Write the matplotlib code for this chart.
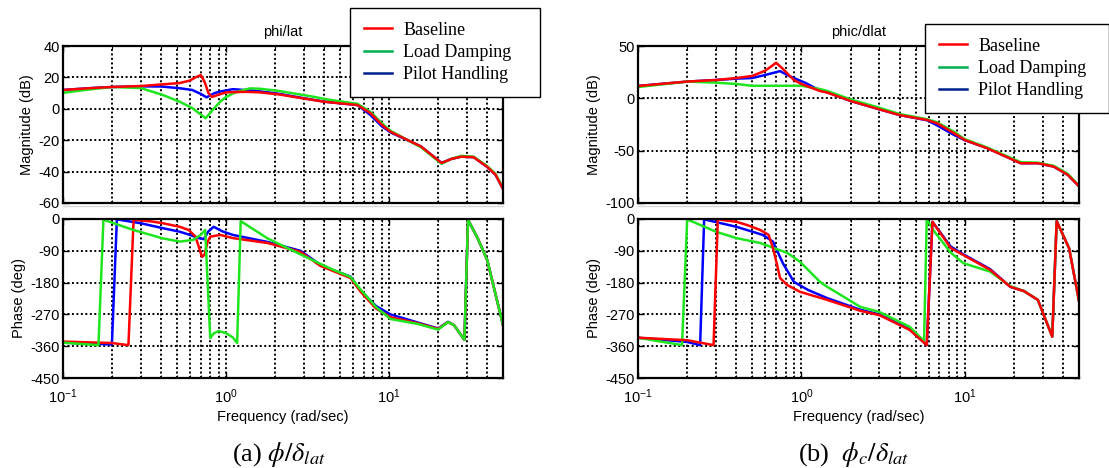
import matplotlib
matplotlib.use("Agg")
import matplotlib.pyplot as plt
from matplotlib.lines import Line2D
from matplotlib.ticker import LogLocator, NullFormatter

plt.rcParams['font.family'] = ['Liberation Sans', 'DejaVu Sans']
plt.rcParams['axes.unicode_minus'] = False

# ---------------- data ----------------
series_names = ["Baseline", "Load Damping", "Pilot Handling"]
panel_titles = ["phi/lat", "phic/dlat"]
captions = [r"(a) $\phi/\delta_{lat}$", r"(b)  $\phi_c/\delta_{lat}$"]
mag_ticks_a = [-60, -40, -20, 0, 20, 40]
mag_ticks_b = [-100, -50, 0, 50]
phase_ticks = [-450, -360, -270, -180, -90, 0]
freq_range = [0.1, 50]

# panel (a) magnitude
a_mag_base_f = [0.1, 0.15, 0.2, 0.3, 0.4, 0.52, 0.6, 0.65, 0.7, 0.74, 0.78, 0.82, 0.9, 1.0, 1.3, 1.6, 2.1, 2.9, 4.0, 5.0, 6.4, 7.7, 9.0, 10.2, 15.7, 21, 24, 27.6, 33, 40, 45, 50]
a_mag_base_db = [12, 13.2, 13.9, 14.5, 15.5, 16.4, 18, 20, 21.5, 17, 10, 7.5, 9, 10.5, 10.8, 10.5, 9.2, 6.8, 4.5, 3.5, 2.4, -2.8, -10, -14.6, -24, -34.5, -32, -30.5, -30.8, -37, -42, -51]
a_mag_pilot_f = [0.1, 0.15, 0.2, 0.3, 0.4, 0.52, 0.62, 0.7, 0.76, 0.85, 0.92, 1.1, 1.5, 2.1, 2.9, 4.0, 5.0, 6.4, 7.7, 9.0, 10.2, 15.7, 21, 24, 27.6, 33, 40, 45, 50]
a_mag_pilot_db = [12, 13.2, 13.9, 14.3, 14.2, 13.1, 12, 9.5, 7.3, 10, 11, 12.5, 11.5, 9.6, 7, 4.6, 3.5, 2.4, -4, -11, -15, -24, -34.5, -32, -30.5, -30.8, -37, -42, -51]
a_mag_load_f = [0.1, 0.15, 0.2, 0.3, 0.41, 0.52, 0.62, 0.75, 0.84, 0.92, 1.0, 1.11, 1.23, 1.4, 1.6, 2.07, 3.3, 4.4, 6.4, 7.7, 9.0, 10.2, 15.7, 21, 24, 27.6, 33, 40, 45, 50]
a_mag_load_db = [10.2, 12.5, 13.9, 13.2, 8.8, 4.5, 0.5, -6, 0, 4.5, 7.5, 9.9, 11.5, 13, 12.8, 11.5, 8, 5.6, 3.2, -2, -9, -14, -24.5, -35, -32, -30, -30.5, -36.5, -41.5, -50.5]

# panel (a) phase
a_ph_base_f = [0.1, 0.2, 0.252, 0.271, 0.35, 0.41, 0.52, 0.59, 0.65, 0.68, 0.70, 0.715, 0.74, 0.77, 0.8, 0.92, 1.1, 1.8, 2.86, 3.8, 5.0, 5.8, 6.7, 8.3, 10.2, 15, 20, 23, 25, 29, 30.5, 35, 40, 50]
a_ph_base_deg = [-347, -351, -357, -2, -7, -12, -22, -31, -50, -78, -97, -107, -100, -65, -50, -45, -54, -68, -93, -133, -155, -167, -206, -253, -278, -295, -311, -292, -300, -342, -2, -55, -116, -300]
a_ph_pilot_f = [0.1, 0.1995, 0.214, 0.3, 0.41, 0.52, 0.6, 0.68, 0.73, 0.78, 0.84, 0.95, 1.1, 1.8, 2.86, 3.8, 5.0, 5.8, 6.7, 8.3, 10.2, 15, 20, 23, 25, 29, 30.5, 35, 40, 50]
a_ph_pilot_deg = [-350, -355, -1, -12, -26, -36, -45, -54, -57, -35, -22, -35, -45, -65, -90, -130, -152, -163, -203, -246, -270, -293, -310, -291, -300, -342, -2, -55, -116, -300]
a_ph_load_f = [0.1, 0.165, 0.177, 0.27, 0.41, 0.52, 0.63, 0.70, 0.745, 0.8, 0.84, 0.9, 1.0, 1.1, 1.17, 1.23, 1.8, 2.86, 4.3, 5.8, 6.7, 8.3, 10.2, 15, 20, 23, 25, 29, 30.5, 35, 40, 50]
a_ph_load_deg = [-350, -357, -2, -31, -55, -64, -59, -45, -31, -337, -324, -317, -323, -335, -351, -6, -55, -100, -139, -164, -200, -249, -283, -297, -313, -292, -300, -342, -2, -55, -116, -300]

# panel (b) magnitude
b_mag_base_f = [0.1, 0.2, 0.3, 0.4, 0.5, 0.6, 0.66, 0.7, 0.76, 0.9, 1.0, 1.3, 1.44, 2.0, 3.0, 4.0, 5.9, 6.8, 8.6, 10, 13.7, 22, 28, 35, 42.6, 50]
b_mag_base_db = [11.8, 16, 17.5, 19.4, 21.4, 26.4, 31, 34, 29, 17.5, 13.7, 7, 5.5, -2.5, -10.5, -16, -20.7, -24, -33.4, -39.8, -47.7, -62, -62, -65.2, -73, -84]
b_mag_pilot_f = [0.1, 0.2, 0.3, 0.4, 0.5, 0.6, 0.7, 0.74, 0.85, 1.05, 1.3, 1.44, 2.0, 3.0, 4.0, 5.9, 6.8, 8.6, 10, 13.7, 22, 28, 35, 42.6, 50]
b_mag_pilot_db = [11.8, 16, 17.5, 18.8, 19.4, 22.3, 25, 26, 21, 15, 7.5, 5.8, -2.5, -10.5, -16, -21, -26, -35, -40, -47.5, -62, -62, -65.2, -73, -84]
b_mag_load_f = [0.1, 0.2, 0.3, 0.4, 0.5, 0.7, 1.0, 1.3, 1.44, 2.0, 3.0, 4.0, 5.9, 6.8, 8.6, 10, 13.7, 22, 28, 35, 42.6, 50]
b_mag_load_db = [10.8, 16, 15, 13.7, 12, 12, 12, 8.9, 7, -1, -9, -15, -20, -23, -32, -39, -47, -61, -61.5, -64.5, -72, -83.5]

# panel (b) phase
b_ph_base_f = [0.1, 0.2, 0.29, 0.308, 0.4, 0.465, 0.56, 0.63, 0.67, 0.71, 0.74, 0.82, 0.98, 1.44, 2.3, 3.0, 4.6, 5.85, 6.34, 8.2, 9.8, 14.3, 19, 23, 28, 34.3, 36.5, 43.5, 50]
b_ph_base_deg = [-336, -343, -357, -1, -8, -17, -31, -45, -82, -130, -167, -187, -206, -229, -260, -272, -314, -357, -8, -82, -102, -144, -192, -204, -229, -333, -6, -83, -232]
b_ph_pilot_f = [0.1, 0.2, 0.24, 0.254, 0.4, 0.58, 0.67, 0.77, 0.9, 1.1, 1.44, 2.3, 3.0, 4.6, 5.85, 6.34, 8.2, 9.8, 14.3, 19, 23, 28, 34.3, 36.5, 43.5, 50]
b_ph_pilot_deg = [-336, -348, -357, -1, -22, -45, -64, -125, -178, -201, -224, -257, -270, -312, -357, -8, -78, -100, -142, -192, -204, -229, -333, -6, -83, -232]
b_ph_load_f = [0.1, 0.186, 0.2, 0.3, 0.4, 0.56, 0.82, 0.98, 1.3, 1.44, 2.3, 3.0, 4.6, 5.4, 5.63, 5.85, 6.5, 8.2, 9.8, 14.3, 19, 23, 28, 34.3, 36.5, 43.5, 50]
b_ph_load_deg = [-336, -357, -1, -36, -54, -68, -96, -121, -178, -192, -249, -263, -305, -337, -350, -1, -35, -95, -125, -149, -190, -204, -229, -333, -6, -83, -232]

# ---------------- styling ----------------
col_base = '#ff0000'
col_load = '#1ee61e'
col_pilot = '#0000ff'
leg_cols = ['#ff0000', '#00b050', '#00208c']
W, H = 1109, 468

fig = plt.figure(figsize=(W / 100, H / 100), dpi=100)


def px_axes(x0, x1, ytop, ybot):
    return fig.add_axes([x0 / W, 1 - ybot / H, (x1 - x0) / W, (ybot - ytop) / H])


GRID = dict(color='k', linestyle=(0, (1.0, 1.3)), linewidth=1.4)


def style(ax, yticks, show_x):
    ax.set_xscale('log')
    ax.set_xlim(freq_range)
    ax.set_ylim(yticks[0], yticks[-1])
    ax.set_yticks(yticks)
    ax.xaxis.set_major_locator(LogLocator(base=10, numticks=10))
    ax.xaxis.set_minor_locator(LogLocator(base=10, subs=range(2, 10), numticks=20))
    ax.xaxis.set_minor_formatter(NullFormatter())
    if not show_x:
        ax.tick_params(axis='x', which='both', labelbottom=False)
    ax.grid(True, which='major', axis='both', **GRID)
    ax.grid(True, which='minor', axis='x', **GRID)
    ax.tick_params(which='both', direction='in', top=True, right=True, labelsize=10.5)
    ax.tick_params(axis='y', pad=2.5)
    ax.tick_params(axis='x', pad=7)
    ax.tick_params(which='major', length=4, width=1)
    ax.tick_params(which='minor', length=2, width=0.8)
    for s in ax.spines.values():
        s.set_linewidth(1.6)
    ax.set_axisbelow(True)


panels = [
    dict(x0=63, x1=503, mag_ticks=mag_ticks_a,
         mag=[(a_mag_pilot_f, a_mag_pilot_db, col_pilot), (a_mag_load_f, a_mag_load_db, col_load), (a_mag_base_f, a_mag_base_db, col_base)],
         ph=[(a_ph_pilot_f, a_ph_pilot_deg, col_pilot), (a_ph_base_f, a_ph_base_deg, col_base), (a_ph_load_f, a_ph_load_deg, col_load)],
         legbox=(350, 540, 8, 97)),
    dict(x0=638, x1=1079, mag_ticks=mag_ticks_b,
         mag=[(b_mag_pilot_f, b_mag_pilot_db, col_pilot), (b_mag_load_f, b_mag_load_db, col_load), (b_mag_base_f, b_mag_base_db, col_base)],
         ph=[(b_ph_pilot_f, b_ph_pilot_deg, col_pilot), (b_ph_load_f, b_ph_load_deg, col_load), (b_ph_base_f, b_ph_base_deg, col_base)],
         legbox=(925, 1109, 24, 111)),
]

for i, p in enumerate(panels):
    axm = px_axes(p['x0'], p['x1'], 46, 203)
    axp = px_axes(p['x0'], p['x1'], 219, 378)
    for f, v, c in p['mag']:
        axm.plot(f, v, color=c, lw=1.8)
    for f, v, c in p['ph']:
        axp.plot(f, v, color=c, lw=1.8)
    style(axm, p['mag_ticks'], False)
    style(axp, phase_ticks, True)
    axm.set_ylabel('Magnitude (dB)', fontsize=10.5, labelpad=3)
    axp.set_ylabel('Phase (deg)', fontsize=10.5, labelpad=3)
    axp.set_xlabel('Frequency (rad/sec)', fontsize=10.5, labelpad=3)
    axm.set_title(panel_titles[i], fontsize=10.5, pad=7)

    # faint separator line seen under the magnitude axes
    fig.add_artist(Line2D([p['x0'] / W, p['x1'] / W], [1 - 205.5 / H] * 2,
                          color='#d8d8d8', lw=1.0, transform=fig.transFigure))

    handles = [Line2D([], [], color=c, lw=1.8) for c in leg_cols]
    lx0, lx1, lyt, lyb = p['legbox']
    leg = fig.legend(handles, series_names, loc='upper left',
                     bbox_to_anchor=(lx0 / W, 1 - lyb / H, (lx1 - lx0) / W, (lyb - lyt) / H),
                     mode='expand', prop={'family': 'Liberation Serif', 'size': 13},
                     frameon=True, fancybox=False, borderpad=0.75, labelspacing=0.3,
                     handlelength=1.6, handletextpad=0.6, borderaxespad=0)
    fr = leg.get_frame()
    fr.set_edgecolor('k')
    fr.set_linewidth(1.0)
    fr.set_alpha(1)

    cx = (p['x0'] + p['x1']) / 2 / W - 0.004
    fig.text(cx, 1 - 461 / H, captions[i], ha='center', va='baseline',
             fontsize=19, family='Liberation Serif', math_fontfamily='stix')

fig.savefig('out.png', dpi=100)
